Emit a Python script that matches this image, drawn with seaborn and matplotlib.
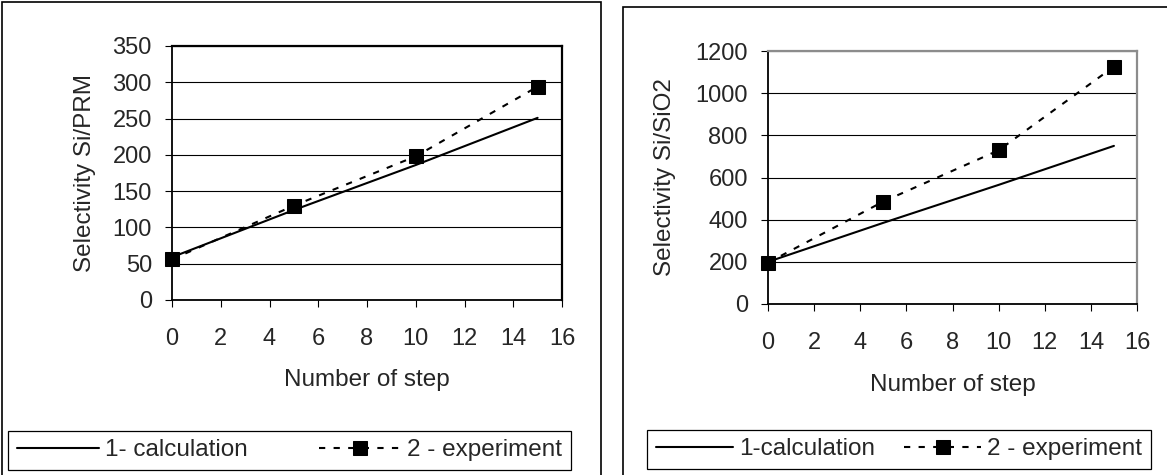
import numpy as np
import matplotlib; matplotlib.use("Agg")
import matplotlib.pyplot as plt
import matplotlib.patches as mpatches
import seaborn as sns

steps = [0, 5, 10, 15]
prm_calc = [59, 124, 186, 251]
prm_exp = [56, 130, 198, 294]
sio2_calc = [200, 385, 565, 750]
sio2_exp = [196, 486, 729, 1126]

xticks = list(range(0, 17, 2))
prm_yticks = list(range(0, 351, 50))
sio2_yticks = list(range(0, 1201, 200))

sns.set_style("white")
plt.rcParams["font.family"] = ["Liberation Sans", "DejaVu Sans"]
FS_TICK = 17
FS = 17.5
W, H = 1167, 475

fig = plt.figure(figsize=(W/100, H/100), dpi=100)

def px_axes(x0, y0, x1, y1):
    # pixel box (top-left origin) -> figure fraction axes
    return fig.add_axes([x0/W, 1-y1/H, (x1-x0)/W, (y1-y0)/H])

def panel(ax, calc, exp, yticks, ylabel, labels, frame_col, ylab_x, xlabpad):
    sns.lineplot(x=steps, y=calc, ax=ax, color="black", lw=1.5, label=labels[0], clip_on=False)
    sns.lineplot(x=steps, y=exp, ax=ax, color="black", lw=1.5, linestyle=(0, (3, 4)),
                 marker="s", markersize=10, markeredgecolor="black", markerfacecolor="black",
                 label=labels[1], clip_on=False)
    ax.set_xlim(0, 16); ax.set_ylim(yticks[0], yticks[-1])
    ax.set_xticks(xticks); ax.set_yticks(yticks)
    ax.grid(axis="y", color="black", lw=0.8)
    ax.set_axisbelow(True)
    for s in ["left", "bottom"]:
        ax.spines[s].set_color("black"); ax.spines[s].set_linewidth(1.3)
    for s in ["top", "right"]:
        ax.spines[s].set_color(frame_col); ax.spines[s].set_linewidth(1.6)
    ax.tick_params(axis="both", direction="out", length=5, width=0.8, color="black",
                   labelsize=FS_TICK, left=True, bottom=True)
    ax.tick_params(axis="x", pad=15.5)
    ax.tick_params(axis="y", pad=9.5)
    ax.set_xlabel("Number of step", fontsize=FS, labelpad=xlabpad)
    ax.set_ylabel(ylabel, fontsize=FS)
    ax.yaxis.set_label_coords(ylab_x, 0.5)
    h, l = ax.get_legend_handles_labels()
    ax.get_legend().remove()
    return h, l

ax1 = px_axes(172, 46, 562, 300)
h1, l1 = panel(ax1, prm_calc, prm_exp, prm_yticks, "Selectivity Si/PRM",
               ["1- calculation", "2 - experiment"], "black", -0.195, 13)
ax2 = px_axes(768, 51, 1137, 304)
h2, l2 = panel(ax2, sio2_calc, sio2_exp, sio2_yticks, "Selectivity Si/SiO2",
               ["1-calculation", "2 - experiment"], "#8c8c8c", -0.25, 14)

def legend(h, l, x0, y0, x1, y1, hl):
    lg = fig.legend(h, l, loc="lower left", ncol=2, mode="expand",
                    bbox_to_anchor=(x0/W, 1-y1/H, (x1-x0)/W, (y1-y0)/H),
                    bbox_transform=fig.transFigure, borderaxespad=0, fontsize=FS,
                    frameon=True, fancybox=False, edgecolor="black", framealpha=1,
                    handlelength=hl, handletextpad=0.25, borderpad=0.35)
    lg.get_frame().set_linewidth(0.9)
    return lg

legend(h1, l1, 8, 427, 571, 470, 3.4)
legend(h2, l2, 647, 430, 1151, 469, 3.2)

# outer chart borders
for (x0, y0, x1, y1) in [(2, 2, 601, 478), (623, 7, 1180, 478)]:
    fig.add_artist(mpatches.Rectangle((x0/W, 1-y1/H), (x1-x0)/W, (y1-y0)/H,
                                      transform=fig.transFigure, fill=False,
                                      edgecolor="black", lw=1.2))

plt.savefig("out.png", dpi=100)
plt.close()
